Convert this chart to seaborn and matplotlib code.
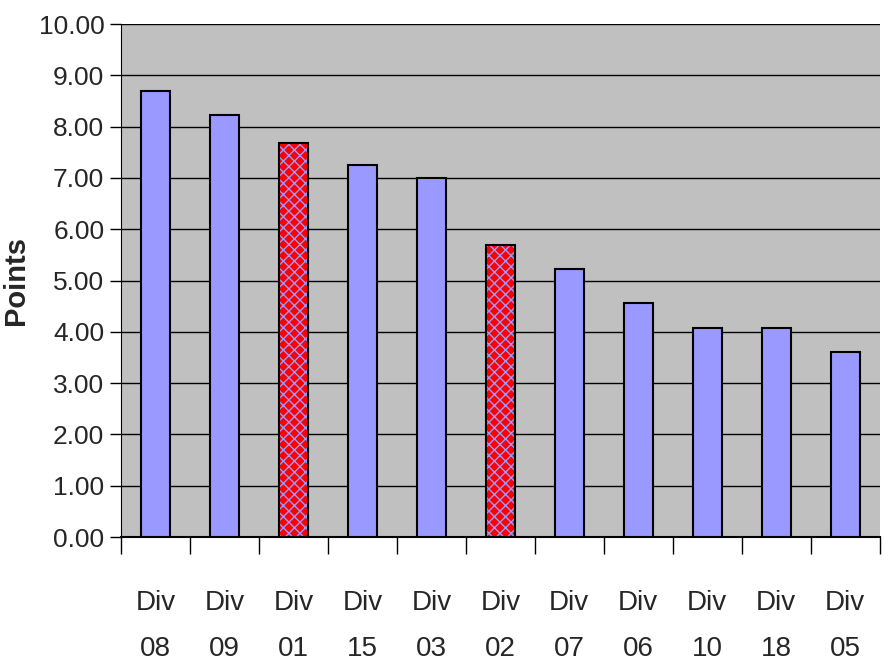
import matplotlib.pyplot as plt
import matplotlib.patches as mpatches
from matplotlib.ticker import FixedLocator, FormatStrFormatter
import pandas as pd
import seaborn as sns

# Data
divisions = ["Div\n08", "Div\n09", "Div\n01", "Div\n15", "Div\n03", "Div\n02",
             "Div\n07", "Div\n06", "Div\n10", "Div\n18", "Div\n05"]
points = [8.69, 8.22, 7.68, 7.25, 7.00, 5.70, 5.22, 4.57, 4.08, 4.08, 3.60]
highlighted = ["Div\n01", "Div\n02"]

df = pd.DataFrame({"Division": divisions, "Points": points})

sns.set_style("white")
plt.rcParams['font.family'] = ['Liberation Sans', 'DejaVu Sans']

fig = plt.figure(figsize=(8.85, 6.71), dpi=100)
ax = fig.add_axes([0.1367, 0.1997, 0.8573, 0.7645])
ax.set_facecolor("#C0C0C0")

sns.barplot(data=df, x="Division", y="Points", color="#9999FF", saturation=1,
            edgecolor="black", linewidth=1.5, width=0.42, ax=ax, zorder=3)

# checkered fill for the highlighted divisions
for patch, name in zip(ax.patches, df["Division"]):
    if name in highlighted:
        fill = mpatches.Rectangle(patch.get_xy(), patch.get_width(), patch.get_height(),
                                  facecolor="red", edgecolor="#9999FF", hatch="xxx",
                                  linewidth=0, zorder=3)
        ax.add_patch(fill)
        patch.set_facecolor("none")
        patch.set_zorder(4)

# Decorations
ax.set_ylim(0, 10)
ax.set_yticks(range(0, 11))
ax.yaxis.set_major_formatter(FormatStrFormatter("%.2f"))
ax.yaxis.grid(True, color="black", linewidth=1)
ax.set_axisbelow(True)
ax.tick_params(axis="y", labelsize=19, length=8, width=1, color="black", left=True, pad=4)

ax.set_xlim(-0.5, len(divisions) - 0.5)
ax.xaxis.set_minor_locator(FixedLocator([i - 0.5 for i in range(len(divisions) + 1)]))
ax.tick_params(axis="x", which="major", length=0, labelsize=20, pad=38)
ax.tick_params(axis="x", which="minor", length=12, width=1, color="black", bottom=True, direction="out")
for lbl in ax.get_xticklabels():
    lbl.set_linespacing(2.0)

for side in ["top", "right"]:
    ax.spines[side].set_visible(False)
ax.spines["left"].set_color("black")
ax.spines["bottom"].set_color("black")
ax.spines["bottom"].set_linewidth(1.5)

ax.set_xlabel("")
ax.set_ylabel("Points", fontsize=21, fontweight="bold")
ax.yaxis.set_label_coords(-0.12, 0.5)

fig.savefig("out.png", dpi=100)
